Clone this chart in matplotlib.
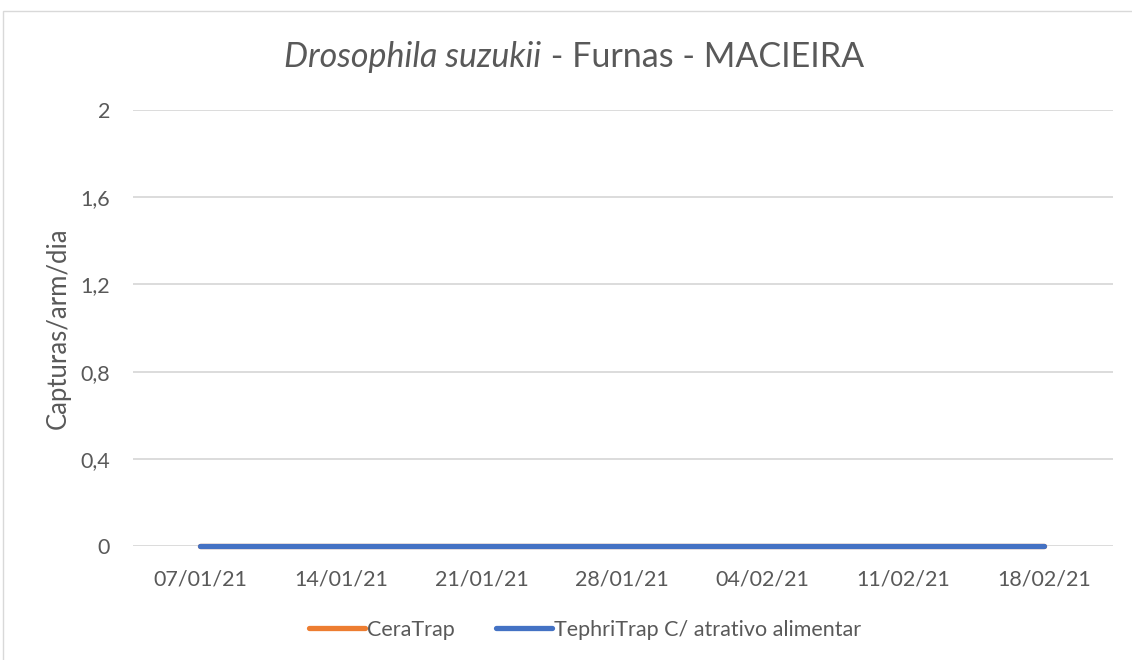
import matplotlib
matplotlib.use("Agg")
import matplotlib.pyplot as plt
import matplotlib.dates as mdates
from matplotlib.patches import Rectangle
import datetime as dt

# ---- data ----
dates = ["2021-01-07", "2021-01-14", "2021-01-21", "2021-01-28",
         "2021-02-04", "2021-02-11", "2021-02-18"]
ceratrap = [0, 0, 0, 0, 0, 0, 0]
tephritrap = [0, 0, 0, 0, 0, 0, 0]
series_names = ["CeraTrap", "TephriTrap C/ atrativo alimentar"]
y_ticks = [0, 0.4, 0.8, 1.2, 1.6, 2]
y_tick_labels = ["0", "0,4", "0,8", "1,2", "1,6", "2"]
title_italic = "Drosophila suzukii"
title_rest = " - Furnas - MACIEIRA"
y_label = "Capturas/arm/dia"

plt.rcParams["font.family"] = ["Lato", "DejaVu Sans"]
TXT = "#595959"
GRID = "#D9D9D9"

x = [dt.datetime.strptime(d, "%Y-%m-%d") for d in dates]
xn = mdates.date2num(x)

fig = plt.figure(figsize=(11.32, 6.60), dpi=100)
fig.patch.set_facecolor("white")
fig.patches.append(Rectangle((3 / 1132, -0.05), 1.2, 1 - 11 / 660 + 0.05,
                             transform=fig.transFigure, fill=False,
                             edgecolor="#D9D9D9", linewidth=1.0))

ax = fig.add_axes([133 / 1132, 1 - 546 / 660, (1113 - 133) / 1132, (546 - 110) / 660])
ax.set_facecolor("white")

ax.plot(xn, ceratrap, color="#ED7D31", lw=3.8, solid_capstyle="round",
        label=series_names[0], zorder=3, clip_on=False)
ax.plot(xn, tephritrap, color="#4472C4", lw=3.8, solid_capstyle="round",
        label=series_names[1], zorder=4, clip_on=False)

ax.set_ylim(0, 2)
ax.set_yticks(y_ticks)
ax.set_yticklabels(y_tick_labels)
ax.set_xlim(xn[0] - 3.35, xn[-1] + 3.45)
ax.set_xticks(xn)
ax.set_xticklabels([d.strftime("%d/%m/%y") for d in x])

for s in ax.spines.values():
    s.set_visible(False)
ax.grid(axis="y", color=GRID, linewidth=1.3, zorder=0)
ax.set_axisbelow(True)
ax.tick_params(axis="both", length=0, colors=TXT, labelsize=15.5)
ax.tick_params(axis="y", pad=16.5)
ax.tick_params(axis="x", pad=17)
for lab in ax.get_xticklabels() + ax.get_yticklabels():
    lab.set_color(TXT)

fig.text(58 / 1132, 1 - 328 / 660, y_label, rotation=90, color=TXT,
         fontsize=18.5, ha="center", va="center")

leg = ax.legend(loc="center", bbox_to_anchor=(585 / 1132, 1 - 630 / 660),
                bbox_transform=fig.transFigure,
                ncol=2, frameon=False, fontsize=15.5, handlelength=2.6,
                handletextpad=0.1, columnspacing=1.9)
for t in leg.get_texts():
    t.set_color(TXT)

# title with italic part
fs = 24.5
t1 = fig.text(0.5, 1 - 57 / 660, title_italic, fontsize=fs, style="italic",
              color=TXT, ha="left", va="center")
t2 = fig.text(0.5, 1 - 57 / 660, title_rest, fontsize=fs, color=TXT,
              ha="left", va="center")
fig.canvas.draw()
r = fig.canvas.get_renderer()
w1 = t1.get_window_extent(r).width
w2 = t2.get_window_extent(r).width
total = w1 + w2
cx = 574
x0 = cx - total / 2
t1.set_x(x0 / 1132)
t2.set_x((x0 + w1) / 1132)

fig.savefig("out.png", dpi=100, facecolor="white")
